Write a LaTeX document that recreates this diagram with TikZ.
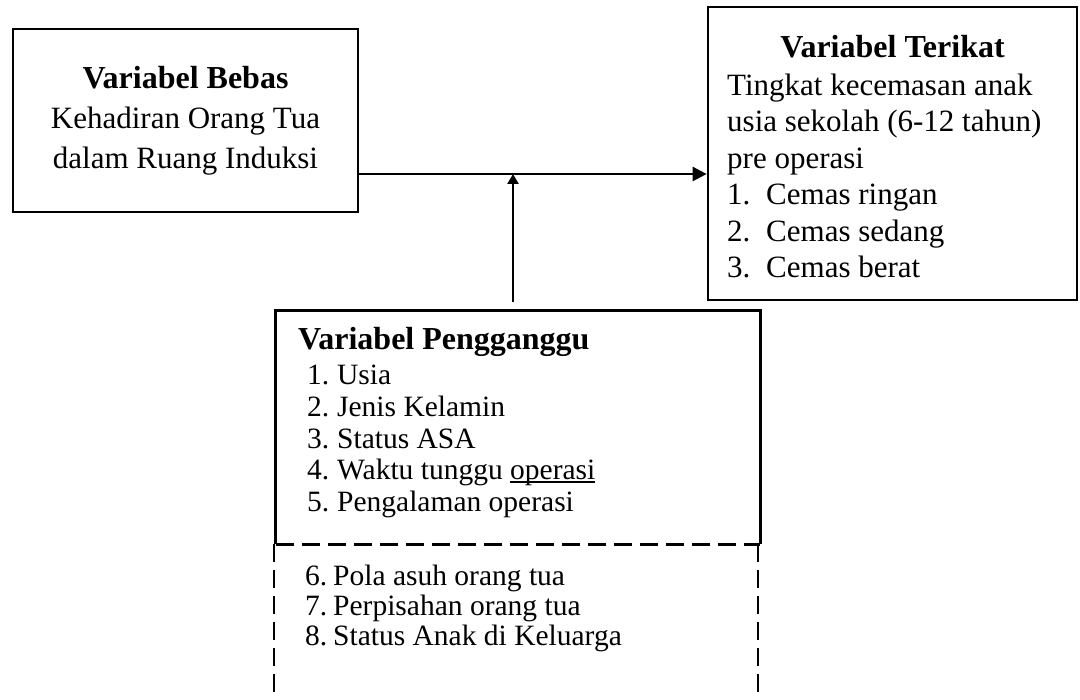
\documentclass[tikz,border=0pt]{standalone}
\usepackage{fontspec}
\setmainfont{Liberation Serif}
\usetikzlibrary{arrows.meta}

\newcommand\garisbawah[1]{\setbox0\hbox{#1}\rlap{\rule[-3pt]{\wd0}{1.4pt}}#1}

\tikzset{
  kotak/.style={draw, line width=2.7pt, inner sep=0pt},
  putus/.style={line width=2.7pt, dash pattern=on 18pt off 8pt},
  isi/.style={inner sep=0pt, align=left},
  panah/.style={line width=2.5pt, -{Triangle[length=14pt,width=14pt]}},
  panahkecil/.style={line width=2.5pt, -{Triangle[length=10pt,width=11pt]}},
}

\begin{document}
\begin{tikzpicture}[x=1pt, y=-1pt]
  \useasboundingbox (0,0) rectangle (1080,700);

  % Variabel bebas
  \node[kotak, minimum width=345pt, minimum height=183pt, align=center,
        font=\fontsize{31}{40}\selectfont] (bebas) at (185.5,120.5)
        {\textbf{\fontsize{32}{40}\selectfont Variabel Bebas}\\Kehadiran Orang Tua\\dalam Ruang Induksi};

  % Variabel terikat
  \node[kotak, minimum width=369pt, minimum height=293pt] (terikat) at (892.5,153.5) {};
  \node[isi, font=\fontsize{32}{36}\bfseries] (judulterikat) at (892.5,47) {Variabel Terikat};
  \node[isi, anchor=west, font=\fontsize{31}{36.4}\selectfont] (isiterikat) at (727,176)
    {Tingkat kecemasan anak\\usia sekolah (6-12 tahun)\\pre operasi\\
     \makebox[39pt][l]{1.}Cemas ringan\\
     \makebox[39pt][l]{2.}Cemas sedang\\
     \makebox[39pt][l]{3.}Cemas berat};

  % Variabel pengganggu
  \node[minimum width=484pt, minimum height=233pt, inner sep=0pt] (pengganggu) at (518,427.5) {};
  \draw[line width=2.7pt] (pengganggu.south west) -- (pengganggu.north west)
    -- (pengganggu.north east) -- (pengganggu.south east);
  \draw[putus] (pengganggu.south west) -- (pengganggu.south east);
  \coordinate (bawahkiri) at (274,700);
  \coordinate (bawahkanan) at (758,700);
  \draw[putus] (bawahkiri |- pengganggu.south) -- (bawahkiri);
  \draw[putus] (bawahkanan |- pengganggu.south) -- (bawahkanan);

  \node[isi, anchor=west, font=\fontsize{32}{36}\bfseries] (judulpengganggu) at (298,342)
    {Variabel Pengganggu};
  \node[isi, anchor=west, font=\fontsize{29.5}{31.75}\selectfont] (daftarpengganggu) at (307,441.5)
    {\makebox[30pt][l]{1.}Usia\\
     \makebox[30pt][l]{2.}Jenis Kelamin\\
     \makebox[30pt][l]{3.}Status ASA\\
     \makebox[30pt][l]{4.}Waktu tunggu \garisbawah{operasi}\\
     \makebox[30pt][l]{5.}Pengalaman operasi};
  \node[isi, anchor=west, font=\fontsize{29.5}{30}\selectfont] (daftarlain) at (305,608)
    {\makebox[28pt][l]{6.}Pola asuh orang tua\\
     \makebox[28pt][l]{7.}Perpisahan orang tua\\
     \makebox[28pt][l]{8.}Status Anak di Keluarga};

  % Panah
  \coordinate (temu) at (513,174);
  \draw[panah] (bebas.east |- temu) -- (terikat.west |- temu);
  \draw[panahkecil, shorten <=9pt] (pengganggu.north -| temu) -- (temu);
\end{tikzpicture}
\end{document}
